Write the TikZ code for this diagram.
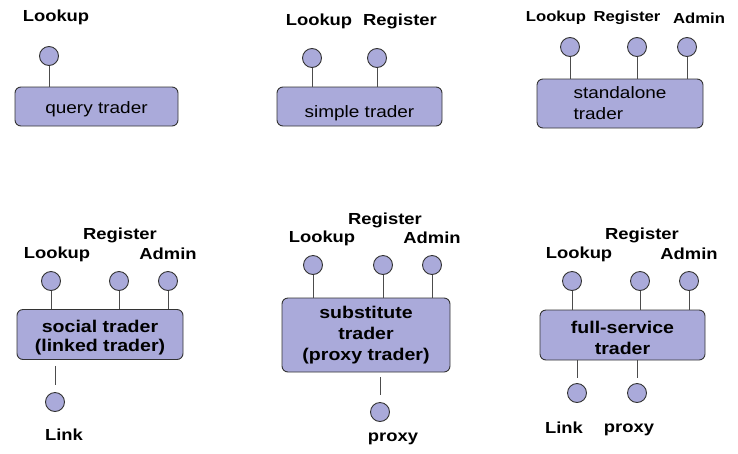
\documentclass[tikz,border=0pt]{standalone}
\usepackage{fontspec}
\setmainfont[FakeStretch=1.15]{Liberation Sans}
\usetikzlibrary{calc, positioning}
\definecolor{traderblue}{RGB}{170,170,218}
\tikzset{ % trader styles
  trader/.style={draw=black!80, fill=traderblue, rounded corners=6pt, line width=0.9pt, align=center},
  port/.style={circle, draw=black!80, fill=traderblue, minimum size=19pt, inner sep=0pt, line width=0.9pt},
  portname/.style={inner sep=0pt, font=\bfseries\fontsize{16}{16}\selectfont},
  smallname/.style={portname, font=\bfseries\fontsize{14.5}{16}\selectfont},
  wire/.style={draw=black!70, line width=0.9pt},
  plain/.style={font=\fontsize{16.5}{21}\selectfont},
  bold/.style={font=\bfseries\fontsize{17}{21}\selectfont}
}
\newcommand{\lowstrut}{\rule{0pt}{19pt}}

\begin{document}
\begin{tikzpicture}[x=1pt, y=-1pt]
\useasboundingbox (0,0) rectangle (738,453);
% query trader
\node[trader, plain, minimum width=163pt, minimum height=39pt] (qt) at (96.5,106.5) {\raisebox{-6.5pt}[0pt][0pt]{query trader}};
\node[port] (qlook) at (49,56) {};
\node[portname] (qlookname) at (56,17) {Lookup};
\draw[wire] (qlook) -- (qlook |- qt.north);
% simple trader
\node[trader, plain, minimum width=165pt, minimum height=39pt] (st) at (359.5,106.5) {\raisebox{-10.5pt}[0pt][0pt]{simple trader}};
\node[port] (slook) at (312,58) {};
\node[port] (sreg) at (377,58) {};
\node[portname] (slookname) at (319,21) {Lookup};
\node[portname] (sregname) at (400,21) {Register};
\draw[wire] (slook) -- (slook |- st.north);
\draw[wire] (sreg) -- (sreg |- st.north);
% standalone trader
\node[trader, plain, align=left, minimum width=166pt, minimum height=49pt] (sa) at (620,103.5) {standalone\\trader};
\node[port] (alook) at (570,47) {};
\node[port] (areg) at (637,47) {};
\node[port] (aadm) at (687,47) {};
\node[smallname] (alookname) at (556,18) {Lookup};
\node[smallname] (aregname) at (627,18) {Register};
\node[smallname] (aadmname) at (699,18) {Admin};
\draw[wire] (alook) -- (alook |- sa.north);
\draw[wire] (areg) -- (areg |- sa.north);
\draw[wire] (aadm) -- (aadm |- sa.north);
% social trader
\node[trader, bold, font=\bfseries\fontsize{17}{19.5}\selectfont, minimum width=166pt, minimum height=50pt] (so) at (100,334.5) {\lowstrut social trader\\(linked trader)};
\node[port] (olook) at (51,281) {};
\node[port] (oreg) at (119,281) {};
\node[port] (oadm) at (168,281) {};
\node[port] (olink) at (55,402) {};
\node[portname] (olookname) at (57,254) {Lookup};
\node[portname] (oregname) at (120,235) {Register};
\node[portname] (oadmname) at (168,254) {Admin};
\node[portname] (olinkname) at (64,435) {Link};
\draw[wire] (olook) -- (olook |- so.north);
\draw[wire] (oreg) -- (oreg |- so.north);
\draw[wire] (oadm) -- (oadm |- so.north);
\draw[wire, shorten <=6pt, shorten >=7pt] (olink |- so.south) -- (olink);
% substitute trader
\node[trader, bold, minimum width=168pt, minimum height=74pt] (su) at (366,335) {substitute\\trader\\(proxy trader)};
\node[port] (ulook) at (313,265) {};
\node[port] (ureg) at (383,265) {};
\node[port] (uadm) at (432,265) {};
\node[port] (uproxy) at (380,412) {};
\node[portname] (ulookname) at (322,238) {Lookup};
\node[portname] (uregname) at (385,220) {Register};
\node[portname] (uadmname) at (432,238) {Admin};
\node[portname] (uproxyname) at (393,439) {proxy};
\draw[wire] (ulook) -- (ulook |- su.north);
\draw[wire] (ureg) -- (ureg |- su.north);
\draw[wire] (uadm) -- (uadm |- su.north);
\draw[wire, shorten <=5pt, shorten >=7pt] (uproxy |- su.south) -- (uproxy);
% full-service trader
\node[trader, bold, minimum width=165pt, minimum height=50pt] (fs) at (622.5,335) {\lowstrut full-service\\trader};
\node[port] (flook) at (572,281) {};
\node[port] (freg) at (640,281) {};
\node[port] (fadm) at (689,281) {};
\node[port] (flink) at (577,393) {};
\node[port] (fproxy) at (637,393) {};
\node[portname] (flookname) at (579,254) {Lookup};
\node[portname] (fregname) at (642,235) {Register};
\node[portname] (fadmname) at (689,254) {Admin};
\node[portname] (flinkname) at (564,428) {Link};
\node[portname] (fproxyname) at (629,430) {proxy};
\draw[wire] (flook) -- (flook |- fs.north);
\draw[wire] (freg) -- (freg |- fs.north);
\draw[wire] (fadm) -- (fadm |- fs.north);
\draw[wire, shorten >=5pt] (flink |- fs.south) -- (flink);
\draw[wire, shorten >=5pt] (fproxy |- fs.south) -- (fproxy);
\end{tikzpicture}
\end{document}
